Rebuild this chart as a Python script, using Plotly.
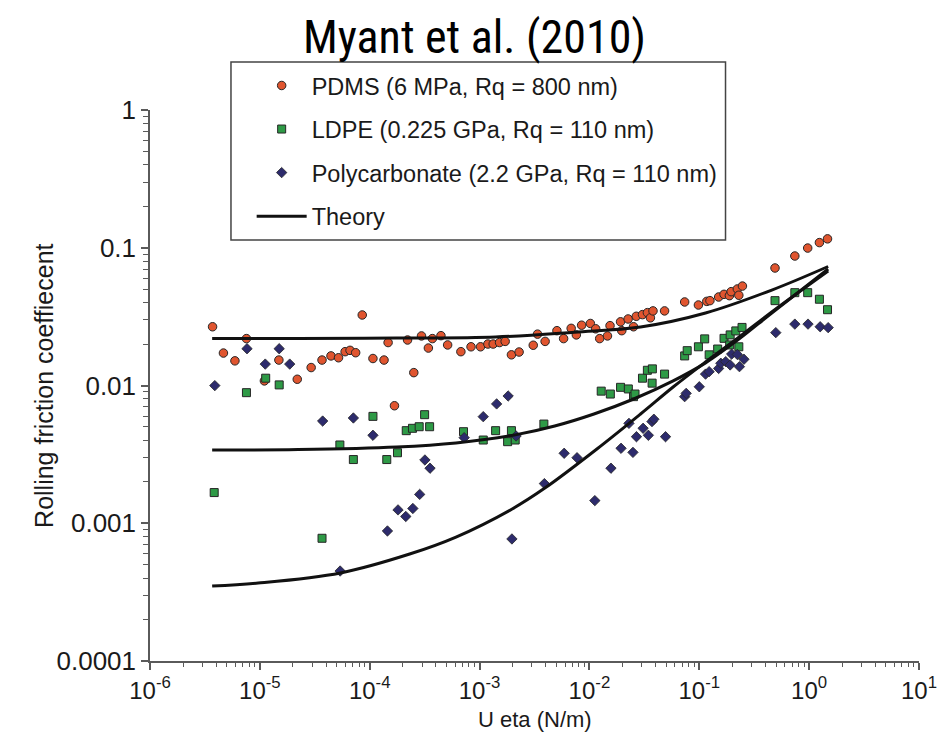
import plotly.graph_objects as go

# ---------------- data ----------------
pdms_x = [3.71e-6, 7.55e-6, 4.66e-6, 5.93e-6, 1.10e-5, 1.49e-5, 2.19e-5, 2.93e-5, 3.68e-5, 4.44e-5,
          5.20e-5, 5.97e-5, 6.62e-5, 7.45e-5, 8.55e-5, 1.07e-4, 1.35e-4, 1.47e-4, 1.68e-4, 2.21e-4,
          2.52e-4, 2.96e-4, 3.42e-4, 3.72e-4, 4.45e-4, 5.12e-4, 6.76e-4, 8.36e-4, 1.02e-3, 1.19e-3,
          1.33e-3, 1.52e-3, 1.71e-3, 1.95e-3, 2.29e-3, 3.08e-3, 3.37e-3, 3.95e-3, 5.06e-3, 5.82e-3,
          6.82e-3, 7.60e-3, 8.49e-3, 1.02e-2, 1.14e-2, 1.24e-2, 1.46e-2, 1.54e-2, 1.92e-2, 1.97e-2,
          2.25e-2, 2.52e-2, 2.67e-2, 3.04e-2, 3.37e-2, 3.59e-2, 3.79e-2, 4.83e-2, 7.36e-2, 9.82e-2,
          1.17e-1, 1.25e-1, 1.50e-1, 1.68e-1, 1.88e-1, 1.95e-1, 2.22e-1, 2.29e-1, 2.47e-1, 4.89e-1,
          7.41e-1, 0.970, 1.24, 1.47]
pdms_y = [0.0267, 0.0219, 0.0172, 0.0151, 0.0108, 0.0153, 0.0111, 0.0135, 0.0153, 0.0164,
          0.0159, 0.0176, 0.0180, 0.0173, 0.0325, 0.0157, 0.0153, 0.0205, 0.00713, 0.0214,
          0.0124, 0.0229, 0.0187, 0.0219, 0.0230, 0.0197, 0.0176, 0.0191, 0.0191, 0.0200,
          0.0200, 0.0205, 0.0209, 0.0167, 0.0175, 0.0196, 0.0236, 0.0209, 0.0250, 0.0219,
          0.0260, 0.0233, 0.0274, 0.0282, 0.0258, 0.0219, 0.0229, 0.0272, 0.0290, 0.0250,
          0.0304, 0.0267, 0.0318, 0.0327, 0.0338, 0.0310, 0.0348, 0.0348, 0.0404, 0.0384,
          0.0408, 0.0413, 0.0439, 0.0459, 0.0449, 0.0480, 0.0502, 0.0452, 0.0527, 0.0713,
          0.0871, 0.0995, 0.109, 0.116]

ldpe_x = [3.84e-6, 7.55e-6, 1.13e-5, 1.50e-5, 3.68e-5, 5.35e-5, 7.10e-5, 1.07e-4, 1.43e-4, 1.79e-4,
          2.15e-4, 2.45e-4, 2.82e-4, 3.16e-4, 3.51e-4, 7.14e-4, 1.08e-3, 1.40e-3, 1.80e-3, 1.95e-3,
          2.11e-3, 3.85e-3, 1.28e-2, 1.55e-2, 1.92e-2, 2.26e-2, 2.52e-2, 2.60e-2, 3.04e-2, 3.37e-2,
          3.74e-2, 3.72e-2, 4.83e-2, 7.36e-2, 7.76e-2, 9.82e-2, 1.12e-1, 1.23e-1, 1.47e-1, 1.68e-1,
          1.91e-1, 1.89e-1, 2.15e-1, 2.29e-1, 2.45e-1, 4.89e-1, 7.41e-1, 0.970, 1.24, 1.47]
ldpe_y = [1.67e-3, 8.87e-3, 1.13e-2, 1.01e-2, 7.78e-4, 3.70e-3, 2.90e-3, 5.97e-3, 2.90e-3, 3.25e-3,
          4.70e-3, 4.89e-3, 5.02e-3, 6.14e-3, 5.02e-3, 4.62e-3, 4.02e-3, 4.70e-3, 3.91e-3, 4.70e-3,
          4.02e-3, 5.25e-3, 9.10e-3, 8.67e-3, 9.70e-3, 9.44e-3, 8.30e-3, 8.67e-3, 1.13e-2, 1.29e-2,
          1.32e-2, 1.04e-2, 1.21e-2, 1.64e-2, 1.79e-2, 1.91e-2, 2.18e-2, 1.67e-2, 1.84e-2, 2.20e-2,
          2.33e-2, 1.97e-2, 2.49e-2, 1.91e-2, 2.64e-2, 4.13e-2, 4.72e-2, 4.72e-2, 4.23e-2, 3.55e-2]

pc_x = [3.89e-6, 7.64e-6, 1.12e-5, 1.50e-5, 1.87e-5, 3.73e-5, 5.38e-5, 7.10e-5, 1.07e-4, 1.45e-4,
        1.81e-4, 2.13e-4, 2.47e-4, 2.85e-4, 3.18e-4, 3.54e-4, 7.24e-4, 1.08e-3, 1.43e-3, 1.82e-3,
        1.97e-3, 2.15e-3, 3.89e-3, 5.89e-3, 7.71e-3, 1.12e-2, 1.57e-2, 1.94e-2, 2.29e-2, 2.49e-2,
        2.68e-2, 3.08e-2, 3.44e-2, 3.71e-2, 3.86e-2, 4.93e-2, 7.36e-2, 7.60e-2, 1.00e-1, 1.14e-1,
        1.23e-1, 1.50e-1, 1.57e-1, 1.74e-1, 1.91e-1, 1.97e-1, 2.22e-1, 2.32e-1, 2.55e-1, 4.97e-1,
        7.41e-1, 0.977, 1.26, 1.49]
pc_y = [9.98e-3, 1.85e-2, 1.43e-2, 1.85e-2, 1.43e-2, 5.52e-3, 4.50e-4, 5.81e-3, 4.35e-3, 8.79e-4,
        1.25e-3, 1.12e-3, 1.28e-3, 1.62e-3, 2.88e-3, 2.51e-3, 4.18e-3, 5.94e-3, 7.35e-3, 8.39e-3,
        7.69e-4, 4.30e-3, 1.94e-3, 3.22e-3, 2.99e-3, 1.46e-3, 2.51e-3, 3.50e-3, 5.31e-3, 3.27e-3,
        4.25e-3, 4.89e-3, 4.35e-3, 5.47e-3, 5.69e-3, 4.25e-3, 8.30e-3, 8.77e-3, 9.79e-3, 1.21e-2,
        1.26e-2, 1.33e-2, 1.45e-2, 1.49e-2, 1.41e-2, 1.69e-2, 1.68e-2, 1.37e-2, 1.55e-2, 2.42e-2,
        2.79e-2, 2.79e-2, 2.67e-2, 2.63e-2]

theory_pdms_x = [3.68e-6, 2.23e-5, 1.76e-4, 1.40e-3, 7.30e-3, 2.92e-2, 1.14e-1, 4.57e-1, 1.49]
theory_pdms_y = [0.0219, 0.0219, 0.0221, 0.0225, 0.0244, 0.0266, 0.0336, 0.0493, 0.0731]

theory_ldpe_x = [3.68e-6, 2.23e-5, 1.76e-4, 6.10e-4, 2.11e-3, 4.83e-3, 1.10e-2, 2.53e-2, 5.78e-2,
                 1.14e-1, 2.31e-1, 4.57e-1, 1.49]
theory_ldpe_y = [3.40e-3, 3.43e-3, 3.58e-3, 3.83e-3, 4.38e-3, 5.08e-3, 6.21e-3, 7.98e-3, 1.08e-2,
                 1.46e-2, 2.18e-2, 3.36e-2, 7.01e-2]

theory_pc_x = [3.68e-6, 9.66e-6, 5.42e-5, 2.31e-4, 6.10e-4, 1.98e-3, 3.93e-3, 1.17e-2, 2.92e-2,
               5.78e-2, 1.14e-1, 2.31e-1, 4.57e-1, 1.49]
theory_pc_y = [3.50e-4, 3.68e-4, 4.36e-4, 5.98e-4, 7.94e-4, 1.27e-3, 1.80e-3, 3.46e-3, 6.21e-3,
               9.75e-3, 1.48e-2, 2.25e-2, 3.42e-2, 6.78e-2]

x_tickvals = [1e-6, 1e-5, 1e-4, 1e-3, 1e-2, 1e-1, 1e0, 1e1]
x_ticktext = ["10<sup>-6</sup>", "10<sup>-5</sup>", "10<sup>-4</sup>", "10<sup>-3</sup>",
              "10<sup>-2</sup>", "10<sup>-1</sup>", "10<sup>0</sup>", "10<sup>1</sup>"]
y_tickvals = [1e-4, 1e-3, 1e-2, 1e-1, 1]
y_ticktext = ["0.0001", "0.001", "0.01", "0.1", "1"]

series_names = ["PDMS (6 MPa, Rq = 800 nm)", "LDPE (0.225 GPa, Rq = 110 nm)",
                "Polycarbonate (2.2 GPa, Rq = 110 nm)", "Theory"]

# ---------------- styling ----------------
FONT = "Liberation Sans, Arial, sans-serif"
AXIS_COLOR = "#5a5a5a"
TEXT_COLOR = "#1a1a1a"
OUTLINE = "#262626"

fig = go.Figure()

fig.add_trace(go.Scatter(
    x=pdms_x, y=pdms_y, mode="markers", name=series_names[0], legendgroup="a",
    marker=dict(symbol="circle", size=8.5, color="#E0552F", line=dict(color=OUTLINE, width=1)),
))
fig.add_trace(go.Scatter(
    x=ldpe_x, y=ldpe_y, mode="markers", name=series_names[1], legendgroup="b",
    marker=dict(symbol="square", size=8, color="#2E9A46", line=dict(color=OUTLINE, width=1)),
))
fig.add_trace(go.Scatter(
    x=pc_x, y=pc_y, mode="markers", name=series_names[2], legendgroup="c",
    marker=dict(symbol="diamond", size=8, color="#2D2B6C", line=dict(color=OUTLINE, width=0.8)),
))
for i, (tx, ty) in enumerate([(theory_pdms_x, theory_pdms_y),
                              (theory_ldpe_x, theory_ldpe_y),
                              (theory_pc_x, theory_pc_y)]):
    fig.add_trace(go.Scatter(
        x=tx, y=ty, mode="lines", name=series_names[3], legendgroup="d",
        showlegend=(i == 0),
        line=dict(color="#111111", width=3, shape="spline", smoothing=1.0),
    ))

# minor tick positions (2..9 within each decade)
x_minor = [m * 10.0 ** e for e in range(-6, 1) for m in range(2, 10)]
y_minor = [m * 10.0 ** e for e in range(-4, 0) for m in range(2, 10)]

axis_common = dict(
    type="log", showgrid=False, zeroline=False, showline=True,
    linecolor=AXIS_COLOR, linewidth=1.5, ticks="outside", ticklen=7,
    tickcolor=AXIS_COLOR, tickwidth=1.5, tickmode="array",
)

fig.update_xaxes(
    **axis_common, range=[-6, 1], tickvals=x_tickvals, ticktext=x_ticktext,
    tickfont=dict(family=FONT, size=24, color=TEXT_COLOR),
    minor=dict(tickmode="array", tickvals=x_minor, ticks="outside", ticklen=4,
               tickcolor=AXIS_COLOR, tickwidth=1.2, showgrid=False),
)
fig.update_yaxes(
    **axis_common, range=[-4, 0], tickvals=y_tickvals, ticktext=y_ticktext,
    tickfont=dict(family=FONT, size=26, color=TEXT_COLOR),
    minor=dict(tickmode="array", tickvals=y_minor, ticks="outside", ticklen=5,
               tickcolor=AXIS_COLOR, tickwidth=1.2, showgrid=False),
)

# legend frame (pixel box 232..733 x 62..240 -> paper coords)
fig.add_shape(type="rect", xref="paper", yref="paper",
              x0=0.1053, x1=0.7484, y0=0.7641, y1=1.0871,
              line=dict(color="#444444", width=1.5), fillcolor="white", layer="above")

fig.update_layout(
    width=949, height=738,
    margin=dict(l=150, r=20, t=110, b=77),
    paper_bgcolor="white", plot_bgcolor="white",
    font=dict(family=FONT, size=20, color=TEXT_COLOR),
    showlegend=True,
    legend=dict(
        x=0.1322, y=1.084, xanchor="left", yanchor="top",
        bgcolor="rgba(0,0,0,0)", borderwidth=0,
        font=dict(family=FONT, size=23.5, color=TEXT_COLOR),
        tracegroupgap=10, itemwidth=50,
    ),
    annotations=[
        dict(text="Myant et al. (2010)", xref="paper", yref="paper",
             x=0.4223, y=1.1325, xanchor="center", yanchor="middle", showarrow=False,
             font=dict(family="Liberation Sans Narrow, Roboto Condensed, Arial Narrow, Roboto, sans-serif",
                       size=46, color="#000000")),
        dict(text="Rolling friction coeffiecent", xref="paper", yref="paper",
             x=-0.1386, y=0.5, xanchor="center", yanchor="middle", textangle=-90,
             showarrow=False, font=dict(family=FONT, size=25, color=TEXT_COLOR)),
        dict(text="U eta (N/m)", xref="paper", yref="paper",
             x=0.5, y=-0.1053, xanchor="center", yanchor="middle",
             showarrow=False, font=dict(family=FONT, size=22, color=TEXT_COLOR)),
    ],
)

fig.write_html("out.html")
